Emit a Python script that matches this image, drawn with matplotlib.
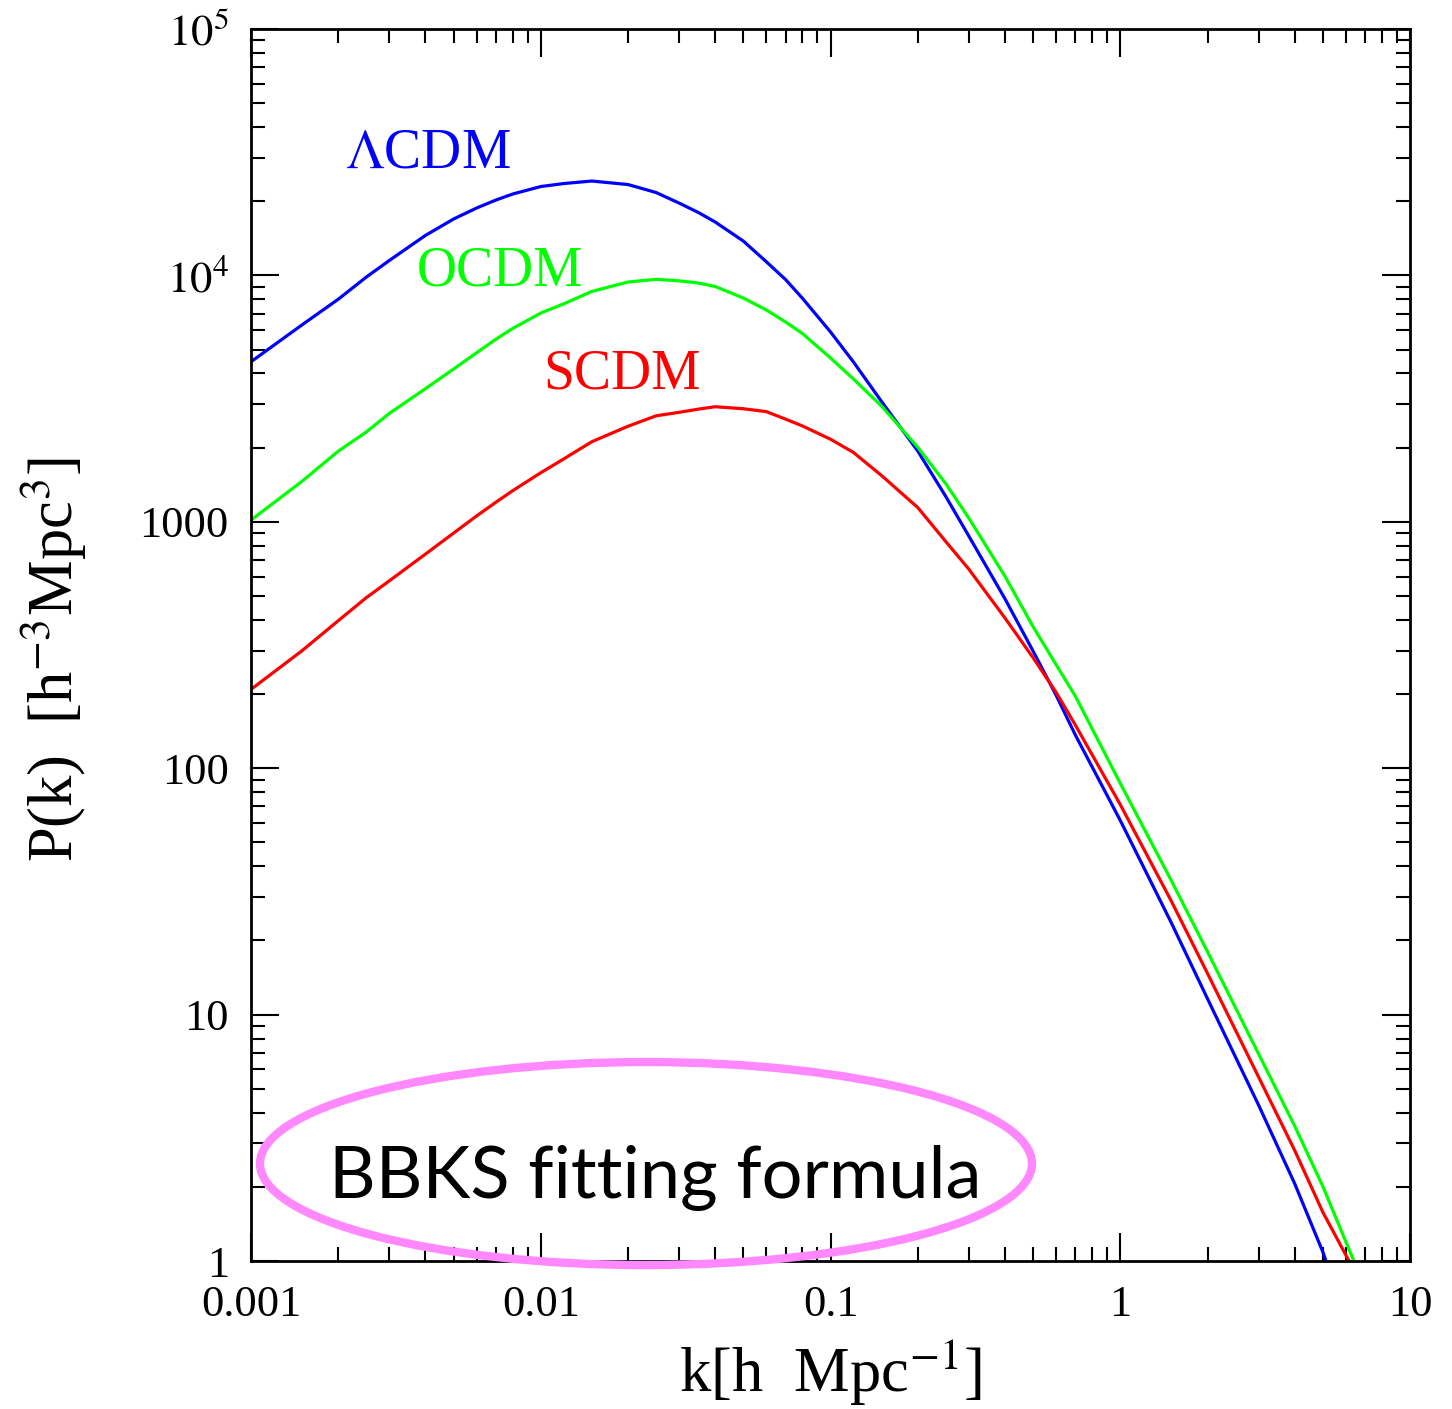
import numpy as np
import matplotlib
matplotlib.use("Agg")
import matplotlib.pyplot as plt
from matplotlib.patches import Ellipse
from matplotlib.ticker import LogLocator, NullFormatter

plt.rcParams['font.family'] = ['Liberation Serif', 'DejaVu Serif']
plt.rcParams['mathtext.fontset'] = 'stix'

# wavenumbers k [h/Mpc]
k_grid = [0.001, 0.0015, 0.002, 0.0025, 0.003, 0.004, 0.005, 0.006, 0.007,
          0.008, 0.01, 0.012, 0.015, 0.02, 0.025, 0.03, 0.035, 0.04, 0.05,
          0.06, 0.07, 0.08, 0.1, 0.12, 0.15, 0.2, 0.25, 0.3, 0.4, 0.5, 0.6,
          0.7, 1, 1.5, 2, 3, 4, 5]

# P(k) for each model
p_lcdm = [4465, 6302, 8007, 9851, 11496, 14540, 16940, 18770, 20230,
          21400, 22950, 23600, 24160, 23380, 21700, 19670, 18000, 16470, 13790,
          11370, 9616, 8075, 5894, 4452, 3077, 1938, 1266, 876, 487, 299, 198.2,
          136.3, 61.4, 23.6, 11.6, 4.30, 2.06, 1.09]
p_ocdm = [1017, 1461, 1936, 2316, 2754, 3472, 4170, 4852, 5510,
          6095, 7037, 7667, 8611, 9402, 9643, 9508, 9316, 9016, 8098,
          7244, 6470, 5810, 4622, 3798, 2949, 2008, 1427, 1036, 601, 375.5, 263.6,
          196, 86.8, 35.0, 18.0, 6.94, 3.53, 2.01]
p_scdm = [209, 300, 397, 492.5, 576, 740, 900, 1056, 1201,
          1338, 1582, 1800, 2114, 2443, 2693, 2782, 2867, 2932, 2877,
          2801, 2611, 2450, 2164, 1912, 1541, 1143, 831, 643, 407, 281, 203.6,
          149.6, 71.2, 28.9, 14.7, 5.59, 2.81, 1.58]

# where each curve leaves the bottom of the plot (P = 1)
k_end = {'lcdm': 5.13, 'ocdm': 6.4, 'scdm': 6.16}

x_ticks = [0.001, 0.01, 0.1, 1, 10]
x_labels = ['0.001', '0.01', '0.1', '1', '10']
y_ticks = [1, 10, 100, 1000, 1e4, 1e5]
y_labels = ['1', '10', '100', '1000', r'$10^4$', r'$10^5$']

fig = plt.figure(figsize=(14.52, 14.09), dpi=100)
ax = fig.add_axes([0.1729, 0.1050, 0.7982, 0.8744])

ax.plot(k_grid + [k_end['lcdm']], p_lcdm + [1.0], color='#0000ff', lw=2.3)
ax.plot(k_grid + [k_end['ocdm']], p_ocdm + [1.0], color='#00ff00', lw=2.3)
ax.plot(k_grid + [k_end['scdm']], p_scdm + [1.0], color='#ff0000', lw=2.3)

ax.set_xscale('log')
ax.set_yscale('log')
ax.set_xlim(0.001, 10)
ax.set_ylim(1, 1e5)

ax.set_xticks(x_ticks, labels=x_labels)
ax.set_yticks(y_ticks, labels=y_labels)
for a in (ax.xaxis, ax.yaxis):
    a.set_minor_locator(LogLocator(base=10, subs=np.arange(2, 10)))
    a.set_minor_formatter(NullFormatter())

ax.tick_params(which='both', direction='in', top=True, right=True, width=1.5)
ax.tick_params(which='major', length=20, labelsize=32)
ax.tick_params(which='minor', length=10)
ax.tick_params(axis='x', which='major', pad=17)
ax.tick_params(axis='y', which='major', pad=16)
for s in ax.spines.values():
    s.set_linewidth(2)

ax.set_xlabel(r'k[h  Mpc$^{-1}$]', fontsize=45)
ax.set_ylabel(r'P(k)  [h$^{-3}$Mpc$^{3}$]', fontsize=45)
ax.xaxis.set_label_coords(0.4996, -0.062)
ax.yaxis.set_label_coords(-0.140, 0.488)

ax.text(0.0811, 0.888, r'$\Lambda$CDM', transform=ax.transAxes, color='#0000ff',
        fontsize=40, ha='left', va='baseline')
ax.text(0.1432, 0.792, 'OCDM', transform=ax.transAxes, color='#00ff00',
        fontsize=40, ha='left', va='baseline')
ax.text(0.252, 0.7086, 'SCDM', transform=ax.transAxes, color='#ff0000',
        fontsize=40, ha='left', va='baseline')

ell = Ellipse((0.4449, 0.1742), 0.5317, 0.1441, transform=fig.transFigure,
              fill=False, edgecolor='#ff88ff', lw=6, clip_on=False)
fig.add_artist(ell)
fig.text(0.451, 0.1498, 'BBKS fitting formula', fontsize=52, family='Lato',
         ha='center', va='baseline')

fig.savefig('out.png', dpi=100)
